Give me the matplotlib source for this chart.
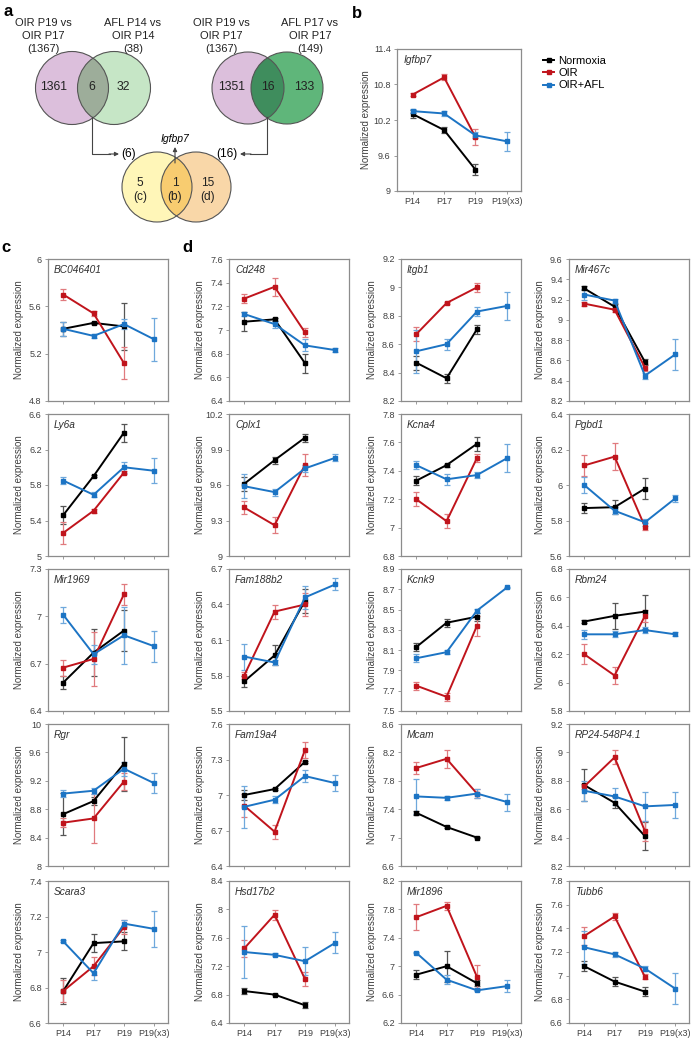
import matplotlib
matplotlib.use("Agg")
import matplotlib.pyplot as plt
import numpy as np
from matplotlib.patches import Circle
from matplotlib.lines import Line2D

plt.rcParams["font.family"] = ["Liberation Sans", "DejaVu Sans"]

timepoints = ["P14", "P17", "P19", "P19(x3)"]

# panel b
igfbp7_norm = [10.30, 10.03, 9.36]
igfbp7_norm_err = [0.07, 0.05, 0.09]
igfbp7_oir = [10.63, 10.92, 9.91]
igfbp7_oir_err = [0.02, 0.05, 0.13]
igfbp7_afl = [10.35, 10.31, 9.94, 9.84]
igfbp7_afl_err = [0.04, 0.04, 0.05, 0.16]

# panels c/d, column-major order (c = first column)
genes = ["BC046401", "Ly6a", "Mir1969", "Rgr", "Scara3",
         "Cd248", "Cplx1", "Fam188b2", "Fam19a4", "Hsd17b2",
         "Itgb1", "Kcna4", "Kcnk9", "Mcam", "Mir1896",
         "Mir467c", "Pgbd1", "Rbm24", "RP24-548P4.1", "Tubb6"]

norm_mean = [[5.41, 5.46, 5.43], [5.46, 5.90, 6.39], [6.58, 6.77, 6.91], [8.73, 8.915, 9.44], [6.78, 7.05, 7.06],
             [7.07, 7.09, 6.72], [9.61, 9.81, 10.0], [5.75, 5.97, 6.43], [7.0, 7.05, 7.28], [6.85, 6.80, 6.65],
             [8.47, 8.36, 8.705], [7.33, 7.44, 7.59], [8.13, 8.37, 8.43], [7.35, 7.15, 7.0], [6.88, 7.0, 6.76],
             [9.31, 9.13, 8.585], [5.87, 5.875, 5.98], [6.43, 6.47, 6.50], [8.77, 8.645, 8.41], [7.08, 6.95, 6.865]]
norm_err = [[0.06, 0.01, 0.20], [0.10, 0.01, 0.10], [0.04, 0.15, 0.13], [0.30, 0.05, 0.38], [0.075, 0.05, 0.05],
            [0.08, 0.01, 0.08], [0.06, 0.03, 0.035], [0.05, 0.085, 0.10], [0.04, 0.01, 0.01], [0.04, 0.01, 0.04],
            [0.05, 0.03, 0.03], [0.03, 0.01, 0.05], [0.04, 0.04, 0.04], [0.03, 0.02, 0.01], [0.06, 0.22, 0.04],
            [0.02, 0.03, 0.03], [0.03, 0.04, 0.06], [0.01, 0.09, 0.12], [0.11, 0.04, 0.10], [0.04, 0.04, 0.04]]
oir_mean = [[5.70, 5.54, 5.12], [5.26, 5.51, 5.94], [6.675, 6.73, 7.14], [8.61, 8.67, 9.19], [6.78, 6.92, 7.14],
            [7.265, 7.365, 6.98], [9.41, 9.26, 9.77], [5.80, 6.34, 6.40], [6.91, 6.69, 7.38], [7.45, 7.925, 7.02],
            [8.67, 8.89, 9.0], [7.20, 7.045, 7.49], [7.75, 7.64, 8.34], [7.98, 8.11, 7.62], [7.69, 7.85, 6.85],
            [9.16, 9.10, 8.53], [6.11, 6.16, 5.765], [6.20, 6.05, 6.47], [8.76, 8.965, 8.445], [7.335, 7.50, 6.99]]
oir_err = [[0.045, 0.02, 0.135], [0.12, 0.02, 0.02], [0.05, 0.17, 0.065], [0.06, 0.34, 0.12], [0.06, 0.05, 0.04],
           [0.04, 0.075, 0.04], [0.055, 0.066, 0.09], [0.03, 0.06, 0.10], [0.10, 0.06, 0.066], [0.12, 0.07, 0.10],
           [0.05, 0.01, 0.03], [0.05, 0.05, 0.03], [0.04, 0.04, 0.10], [0.08, 0.13, 0.06], [0.18, 0.06, 0.16],
           [0.02, 0.02, 0.03], [0.06, 0.075, 0.02], [0.07, 0.06, 0.04], [0.02, 0.05, 0.07], [0.075, 0.03, 0.02]]
afl_mean = [[5.41, 5.35, 5.45, 5.32], [5.85, 5.69, 6.0, 5.96], [7.01, 6.76, 6.88, 6.81], [9.02, 9.06, 9.37, 9.165],
            [7.06, 6.88, 7.16, 7.13],
            [7.135, 7.05, 6.87, 6.83], [9.59, 9.54, 9.74, 9.83], [5.96, 5.91, 6.46, 6.57], [6.90, 6.96, 7.16, 7.10],
            [7.40, 7.36, 7.27, 7.53],
            [8.55, 8.60, 8.83, 8.87], [7.44, 7.34, 7.37, 7.49], [8.02, 8.08, 8.49, 8.72], [7.58, 7.56, 7.62, 7.50],
            [7.19, 6.81, 6.66, 6.72],
            [9.25, 9.19, 8.45, 8.66], [6.0, 5.855, 5.79, 5.925], [6.34, 6.34, 6.37, 6.34], [8.73, 8.69, 8.62, 8.63],
            [7.24, 7.18, 7.06, 6.89]]
afl_err = [[0.06, 0.02, 0.04, 0.18], [0.04, 0.03, 0.06, 0.14], [0.05, 0.06, 0.18, 0.10], [0.05, 0.04, 0.10, 0.14],
           [0.005, 0.04, 0.02, 0.10],
           [0.02, 0.03, 0.05, 0.02], [0.10, 0.03, 0.03, 0.03], [0.11, 0.02, 0.10, 0.05], [0.18, 0.03, 0.05, 0.07],
           [0.37, 0.02, 0.20, 0.15],
           [0.15, 0.04, 0.03, 0.10], [0.03, 0.04, 0.02, 0.096], [0.04, 0.02, 0.02, 0.005], [0.25, 0.03, 0.06, 0.12],
           [0.01, 0.06, 0.01, 0.08],
           [0.05, 0.02, 0.03, 0.15], [0.045, 0.02, 0.02, 0.02], [0.03, 0.02, 0.02, 0.015], [0.07, 0.06, 0.10, 0.09],
           [0.14, 0.02, 0.02, 0.13]]
y_lo = [4.8, 5.0, 6.4, 8.0, 6.6, 6.4, 9.0, 5.5, 6.4, 6.4,
        8.2, 6.8, 7.5, 6.6, 6.2, 8.2, 5.6, 5.8, 8.2, 6.6]
y_hi = [6.0, 6.6, 7.3, 10.0, 7.4, 7.6, 10.2, 6.7, 7.6, 8.4,
        9.2, 7.8, 8.9, 8.6, 8.2, 9.6, 6.4, 6.8, 9.2, 7.8]
y_step = [0.4, 0.4, 0.3, 0.4, 0.2, 0.2, 0.3, 0.3, 0.3, 0.4,
          0.2, 0.2, 0.2, 0.4, 0.4, 0.2, 0.2, 0.2, 0.2, 0.2]

W, H = 692, 1039
C_NORM, C_OIR, C_AFL = "#000000", "#C0141C", "#1C74C4"
E_NORM, E_OIR, E_AFL = "#555555", "#E07A7E", "#6FA8DC"
SPINE = "#8C8C8C"
TXT = "#404040"

fig = plt.figure(figsize=(W / 100, H / 100), dpi=100)


def px_axes(left, top, right, bottom):
    return fig.add_axes([left / W, 1 - bottom / H, (right - left) / W, (bottom - top) / H])


def draw_series(ax, means, errs, color, ecolor):
    x = np.arange(len(means))
    ax.errorbar(x, means, yerr=errs, color=color, ecolor=ecolor, elinewidth=0.9,
                capsize=2, capthick=0.9, lw=1.4, marker="s", ms=2.6, zorder=3)


def style_expr_axes(ax, gene, lo, hi, step, xlabels, ylab_off):
    ax.set_xlim(-0.5, 3.45)
    ax.set_ylim(lo, hi)
    ticks = np.round(np.arange(lo, hi + step / 2, step), 2)
    ax.set_yticks(ticks)
    ax.set_yticklabels([f"{t:g}" for t in ticks])
    ax.set_xticks(range(4))
    ax.set_xticklabels(timepoints if xlabels else [])
    ax.tick_params(direction="out", length=2.5, width=0.6, color=SPINE,
                   labelsize=6.5, labelcolor=TXT, pad=2)
    for sp in ax.spines.values():
        sp.set_color(SPINE)
        sp.set_linewidth(0.9)
    ax.set_ylabel("Normalized expression", fontsize=7, color=TXT)
    ax.yaxis.set_label_coords(-ylab_off / 120, 0.5)
    ax.text(0.05, 0.96, gene, transform=ax.transAxes, style="italic",
            fontsize=7.3, color="#303030", ha="left", va="top")


# ---- panel a: Venn diagrams ----
av = fig.add_axes([0, 1 - 240 / H, 460 / W, 240 / H])
av.set_xlim(0, 460)
av.set_ylim(240, 0)
av.axis("off")


def venn(ax, c1, c2, r, col1, col2, colx):
    a = Circle(c1, r, facecolor=col1, edgecolor="none")
    b = Circle(c2, r, facecolor=col2, edgecolor="none")
    ax.add_patch(a)
    ax.add_patch(b)
    clip = Circle(c1, r, transform=ax.transData)
    ov = Circle(c2, r, facecolor=colx, edgecolor="none")
    ax.add_patch(ov)
    ov.set_clip_path(clip)
    for c in (c1, c2):
        ax.add_patch(Circle(c, r, facecolor="none", edgecolor="#555555", lw=0.8))


venn(av, (72, 88), (114, 88), 36.5, "#DCBFDC", "#C6E6C6", "#9DAD9A")
venn(av, (248, 88), (287, 88), 36, "#DCBFDC", "#5FB67A", "#3F8D5D")
venn(av, (157, 187), (196, 187), 35, "#FFF6B8", "#F9D7A8", "#F8CC70")

fs = 8
for x, s in [(43, "OIR P19 vs\nOIR P17\n(1367)"), (133, "AFL P14 vs\nOIR P14\n(38)"),
             (221, "OIR P19 vs\nOIR P17\n(1367)"), (310, "AFL P17 vs\nOIR P17\n(149)")]:
    av.text(x, 36, s, ha="center", va="center", fontsize=fs, linespacing=1.4, color="#222222")
for x, s in [(54, "1361"), (92, "6"), (123, "32"), (232, "1351"), (268, "16"), (304, "133")]:
    av.text(x, 87, s, ha="center", va="center", fontsize=8.8, color="#222222")
for x, s in [(140, "5\n(c)"), (175, "1\n(b)"), (208, "15\n(d)")]:
    av.text(x, 190, s, ha="center", va="center", fontsize=8.6, linespacing=1.3, color="#222222")

akw = dict(arrowstyle="-|>", color="#444444", lw=0.8, mutation_scale=6, shrinkA=0, shrinkB=0)
av.plot([92, 92, 110], [117, 154, 154], color="#444444", lw=0.8)
av.annotate("", xy=(119, 154), xytext=(109, 154), arrowprops=akw)
av.text(129, 154, "(6)", ha="center", va="center", fontsize=8.6)
av.plot([267, 267, 250], [117, 154, 154], color="#444444", lw=0.8)
av.annotate("", xy=(240, 154), xytext=(251, 154), arrowprops=akw)
av.text(227, 154, "(16)", ha="center", va="center", fontsize=8.6)
av.annotate("", xy=(175, 147), xytext=(175, 163), arrowprops=akw)
av.text(175, 139, "Igfbp7", ha="center", va="center", fontsize=7.5, style="italic")

# ---- panel b ----
ab = px_axes(397, 49, 521, 191)
draw_series(ab, igfbp7_norm, igfbp7_norm_err, C_NORM, E_NORM)
draw_series(ab, igfbp7_oir, igfbp7_oir_err, C_OIR, E_OIR)
draw_series(ab, igfbp7_afl, igfbp7_afl_err, C_AFL, E_AFL)
style_expr_axes(ab, "Igfbp7", 9.0, 11.4, 0.6, True, 25)

handles = [Line2D([], [], color=c, lw=1.4, marker="s", ms=2.6) for c in (C_NORM, C_OIR, C_AFL)]
fig.legend(handles, ["Normoxia", "OIR", "OIR+AFL"], loc="upper left",
           bbox_to_anchor=(533 / W, 1 - 46 / H), frameon=False, fontsize=8,
           handlelength=1.0, handletextpad=0.4, labelspacing=0.2)

# ---- panels c and d ----
col_left = [48, 229, 401, 569]
row_top = [259, 414, 569, 724, 881]
for i, gene in enumerate(genes):
    col, row = divmod(i, 5)
    l, t = col_left[col], row_top[row]
    ax = px_axes(l, t, l + 120, t + 142)
    draw_series(ax, norm_mean[i], norm_err[i], C_NORM, E_NORM)
    draw_series(ax, oir_mean[i], oir_err[i], C_OIR, E_OIR)
    draw_series(ax, afl_mean[i], afl_err[i], C_AFL, E_AFL)
    style_expr_axes(ax, gene, y_lo[i], y_hi[i], y_step[i], row == 4, 24)

for s, x, y in [("a", 8, 12), ("b", 357, 13), ("c", 6, 247), ("d", 187, 247)]:
    fig.text(x / W, 1 - y / H, s, fontsize=12, fontweight="bold", ha="center", va="center")

fig.savefig("out.png", dpi=100)
